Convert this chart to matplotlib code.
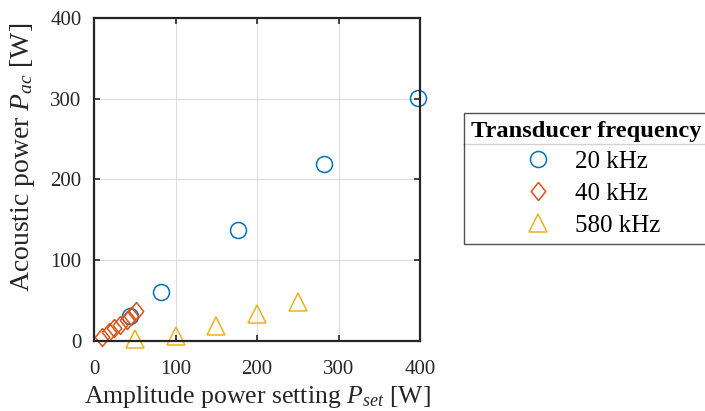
import matplotlib
matplotlib.use("Agg")
import matplotlib.pyplot as plt
from matplotlib.lines import Line2D

# data
p_set_20k = [44, 82, 177, 282, 398]
p_ac_20k = [31, 61, 137, 219, 301]

p_set_40k = [10, 18, 25, 32, 40, 46, 52]
p_ac_40k = [5, 11, 16, 20, 26, 31, 37]

p_set_580k = [50, 100, 150, 200, 250]
p_ac_580k = [3, 6, 18, 34, 48]

labels = ["20 kHz", "40 kHz", "580 kHz"]
colors = ["#0072BD", "#D95319", "#EDB120"]
ticks = [0, 100, 200, 300, 400]

plt.rcParams["font.family"] = ["Liberation Serif", "DejaVu Serif"]
plt.rcParams["mathtext.fontset"] = "custom"
plt.rcParams["mathtext.rm"] = "Liberation Serif"
plt.rcParams["mathtext.it"] = "Liberation Serif:italic"

fig = plt.figure(figsize=(7.05, 4.11), dpi=100)
ax = fig.add_axes([94 / 705, 1 - 341 / 411, 326 / 705, 323 / 411])

diamond = [(0, 1), (0.8, 0), (0, -1), (-0.8, 0), (0, 1)]

ax.plot(p_set_20k, p_ac_20k, linestyle="none", marker="o", ms=11.5,
        mfc="none", mec=colors[0], mew=1.1, label=labels[0], clip_on=False)
ax.plot(p_set_40k, p_ac_40k, linestyle="none", marker=diamond, ms=13,
        mfc="none", mec=colors[1], mew=1.1, label=labels[1], clip_on=False)
ax.plot(p_set_580k, p_ac_580k, linestyle="none", marker="^", ms=13,
        mfc="none", mec=colors[2], mew=1.1, label=labels[2], clip_on=False)

ax.set_xlim(0, 400)
ax.set_ylim(0, 400)
ax.set_xticks(ticks)
ax.set_yticks(ticks)
ax.grid(True, color="#dcdcdc", linewidth=0.8)
ax.set_axisbelow(True)
ax.tick_params(direction="in", length=4, width=1.2, top=True, right=True,
               labelsize=15, colors="#262626")
ax.tick_params(axis="x", pad=14)
ax.tick_params(axis="y", pad=9)
for s in ax.spines.values():
    s.set_linewidth(1.6)
    s.set_color("#262626")

ax.set_xlabel(r"Amplitude power setting $P_{set}$ [W]", fontsize=18.5,
              color="#262626", labelpad=3)
ax.set_ylabel(r"Acoustic power $P_{ac}$ [W]", fontsize=20, color="#262626")
ax.yaxis.set_label_coords(-0.175, 0.57)

leg = fig.legend(loc="upper left", bbox_to_anchor=(464 / 705, 1 - 113 / 411),
                 borderaxespad=0, title="Transducer frequency", fontsize=18,
                 frameon=True, fancybox=False, edgecolor="#262626",
                 handlelength=2.0, handletextpad=0.5, borderpad=0.3,
                 labelspacing=0.37)
leg.get_title().set_fontweight("bold")
leg.get_title().set_fontsize(17.6)
leg.get_frame().set_linewidth(1.0)

fig.canvas.draw()
tb = leg.get_title().get_window_extent()
lb = leg.get_window_extent()
ysep = tb.y0 - 3
inv = fig.transFigure.inverted()
(x0, y0), (x1, _) = inv.transform([(lb.x0, ysep), (lb.x1, ysep)])
fig.add_artist(Line2D([x0, x1], [y0, y0], transform=fig.transFigure,
                      color="#262626", linewidth=1.0))

fig.savefig("out.png", dpi=100)
